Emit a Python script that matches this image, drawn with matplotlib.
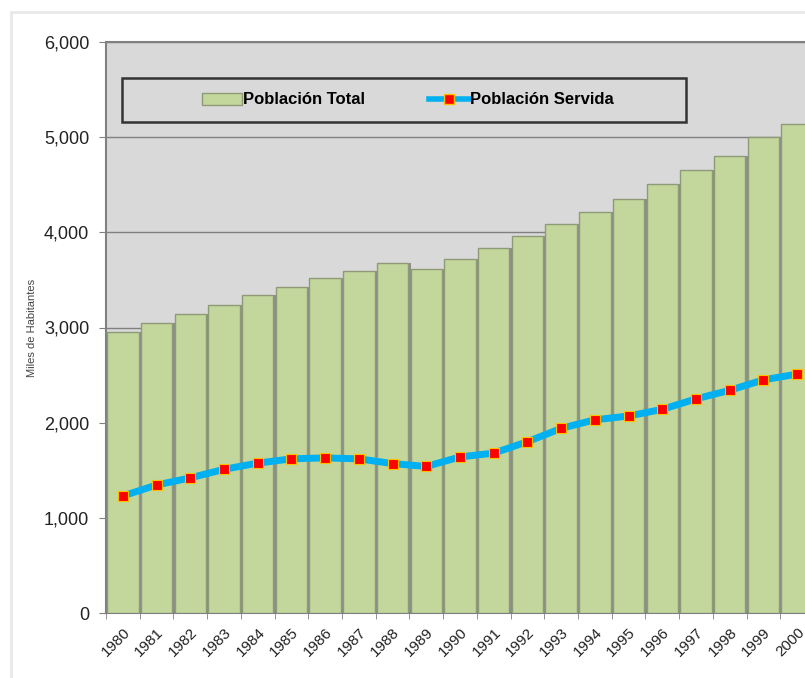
import matplotlib
matplotlib.use("Agg")
import matplotlib.pyplot as plt
from matplotlib.patches import Rectangle
from matplotlib.lines import Line2D
from matplotlib.ticker import FuncFormatter, MultipleLocator
import numpy as np

# datos (miles de habitantes)
years = [str(y) for y in range(1980, 2001)]
poblacion_total = [2950, 3050, 3140, 3240, 3340, 3430, 3520, 3590, 3680, 3610,
                   3720, 3840, 3960, 4090, 4210, 4350, 4510, 4650, 4800, 5000, 5140]
poblacion_servida = [1230, 1345, 1420, 1510, 1575, 1620, 1630, 1620, 1570, 1540,
                     1640, 1680, 1800, 1940, 2030, 2070, 2140, 2250, 2340, 2450, 2510]

plt.rcParams['font.family'] = ['Liberation Sans', 'DejaVu Sans']

W, H = 805, 678
fig = plt.figure(figsize=(W / 100, H / 100), dpi=100)
fig.patch.set_facecolor('white')

# marco exterior del grafico
fig.patches.append(Rectangle((11 / W, -0.1), 1.2, (H - 12) / H + 0.1,
                             transform=fig.transFigure, fill=False,
                             edgecolor='#e8e8e8', linewidth=2))

ax = fig.add_axes([106 / W, 65 / H, (814 - 106) / W, (613 - 42) / H])
ax.set_facecolor('#d9d9d9')

x = np.arange(len(years))
bar_w = 0.935
# sombra de las barras
ax.bar(x + 0.07, poblacion_total, width=bar_w, color='#8c8c8c', zorder=2)
ax.bar(x, poblacion_total, width=bar_w, color='#c3d69b', edgecolor='#8e9a78',
       linewidth=1, zorder=3)

ax.plot(x, poblacion_servida, color='#00b0f0', linewidth=5, zorder=4,
        solid_capstyle='round', solid_joinstyle='round')
ax.plot(x, poblacion_servida, linestyle='none', marker='s', markersize=7.5,
        markerfacecolor='#ff0000', markeredgecolor='#ffc000',
        markeredgewidth=0.8, zorder=5)

ax.set_xlim(-0.5, len(years) - 0.5)
ax.set_ylim(0, 6000)
ax.yaxis.set_major_locator(MultipleLocator(1000))
ax.yaxis.set_major_formatter(FuncFormatter(lambda v, p: f"{int(v):,}"))
ax.grid(axis='y', color='#808080', linewidth=1, zorder=1)
ax.set_axisbelow(True)

ax.set_xticks(x)
ax.set_xticklabels(years, rotation=45, ha='right', rotation_mode='anchor',
                   fontsize=11, color='#222222')
ax.tick_params(axis='x', which='major', length=0, pad=9)
ax.set_xticks(np.arange(-0.5, len(years)), minor=True)
ax.tick_params(axis='x', which='minor', length=4, color='#808080', direction='out')
ax.tick_params(axis='y', length=5, color='#808080', labelsize=13,
               labelcolor='#222222', pad=7)

for s in ['left', 'bottom', 'top']:
    ax.spines[s].set_color('#808080')
    ax.spines[s].set_linewidth(1.5)
ax.spines['right'].set_visible(False)

ax.set_ylabel('Miles de Habitantes', fontsize=8, color='#444444', labelpad=5)

# caja de la leyenda
fig.patches.append(Rectangle((122 / W, 1 - 122 / H), (686 - 122) / W, 44 / H,
                             transform=fig.transFigure, facecolor='#d9d9d9',
                             edgecolor='#333333', linewidth=1.8, zorder=6))

handles = [Rectangle((0, 0), 1, 1, facecolor='#c3d69b', edgecolor='#8e9a78'),
           Line2D([], [], color='#00b0f0', linewidth=4, marker='s', markersize=7,
                  markerfacecolor='#ff0000', markeredgecolor='#ffc000')]
leg = fig.legend(handles, ['Población Total', 'Población Servida'], ncol=2,
                 loc='center', bbox_to_anchor=(408 / W, 1 - 100 / H),
                 frameon=False, handlelength=2.4, handletextpad=0.1,
                 columnspacing=3.8,
                 prop={'weight': 'bold', 'size': 12})
leg.set_zorder(7)

fig.savefig('out.png', dpi=100)
